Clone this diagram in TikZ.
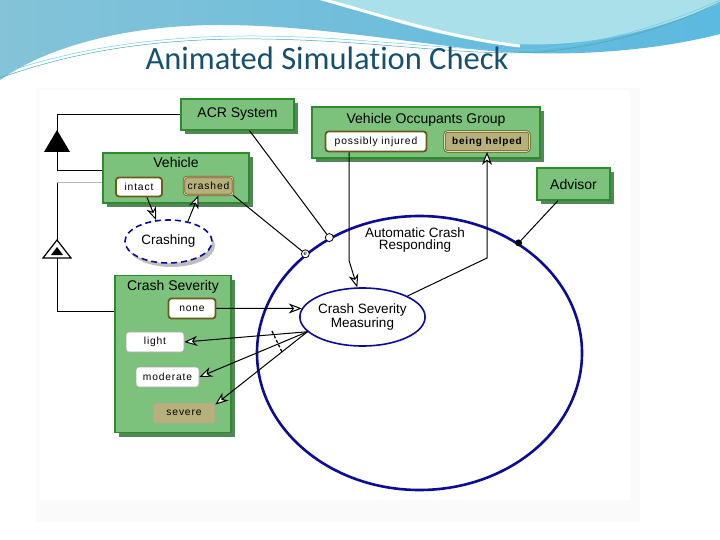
\documentclass[tikz,border=0pt]{standalone}
\usepackage{fontspec}
\setmainfont{Liberation Sans}
\newfontfamily\titlefont[Ligatures=NoCommon]{Carlito}
\newfontfamily\statefont[LetterSpace=8]{Liberation Sans}
\usetikzlibrary{positioning, shapes.geometric, arrows.meta, shadows}

\definecolor{objgreen}{HTML}{7CC27C}
\definecolor{objborder}{HTML}{2C8C2C}
\definecolor{objshadow}{HTML}{55855A}
\definecolor{stateline}{HTML}{6B5A1E}
\definecolor{statekhaki}{HTML}{B8B07A}
\definecolor{procblue}{HTML}{0C0C96}
\definecolor{titleteal}{HTML}{17506E}
\definecolor{waveblue}{HTML}{84C3D8}
\definecolor{wavedeep}{HTML}{5CB9DF}
\definecolor{wavecyan}{HTML}{A9E0EA}

\begin{document}
\begin{tikzpicture}[x=1pt, y=-1pt,
    object/.style={rectangle, draw=objborder, line width=1.2pt, fill=objgreen,
      general shadow={fill=objshadow, shadow xshift=4pt, shadow yshift=-4pt},
      inner sep=0pt, font=\fontsize{14}{16}\selectfont},
    objtitle/.style={font=\fontsize{14}{16}\selectfont},
    statebox/.style={rectangle, rounded corners=3pt, draw=gray!70, line width=0.6pt,
      fill=white, inner sep=0pt, font=\statefont\fontsize{10.3}{12}\selectfont},
    thickstate/.style={statebox, draw=stateline, line width=1.8pt},
    activestate/.style={statebox, fill=statekhaki, draw=stateline, line width=0.7pt,
      double=statekhaki!50!white, double distance=0.8pt},
    process/.style={ellipse, draw=procblue, fill=white, inner sep=0pt, align=center,
      font=\fontsize{13.5}{12.5}\selectfont},
    structline/.style={draw=black, line width=1pt},
    flow/.style={structline, -{Stealth[length=13pt, width=10pt, fill=white, inset=4pt]}},
    endcircle/.style={circle, draw=black, fill=white, line width=0.8pt, minimum size=8pt, inner sep=0pt},
    agentdot/.style={circle, fill=black, minimum size=7pt, inner sep=0pt},
  ]
\useasboundingbox (0,0) rectangle (720,540);

% slide header
\shade[left color=waveblue, right color=wavedeep] (0,0) -- (720,0) -- (720,34)
  .. controls (650,52) and (560,58) .. (480,50) .. controls (380,38) and (300,25) .. (220,25)
  .. controls (130,25) and (50,45) .. (0,80) -- cycle;
\fill[wavecyan] (330,0) .. controls (400,25) and (450,40) .. (515,44)
  .. controls (600,48) and (670,25) .. (720,3) -- (720,0) -- cycle;
\draw[white, line width=3pt] (318,-2) .. controls (390,18) and (450,38) .. (520,46);
\draw[teal!70, line width=0.5pt] (0,78) .. controls (100,42) and (200,36) .. (300,40)
  .. controls (400,44) and (470,56) .. (540,52) .. controls (620,44) and (680,22) .. (720,2);
\draw[cyan!60, line width=0.5pt] (0,74) .. controls (100,40) and (200,33) .. (300,37)
  .. controls (400,41) and (470,53) .. (540,49) .. controls (620,41) and (680,18) .. (720,0);
\node[font=\titlefont\fontsize{32.5}{34}\selectfont, text=titleteal] (title) at (327,58) {Animated Simulation Check};

% screenshot area
\fill[gray!4] (36,88) rectangle (640,522);
\fill[white] (40,90) rectangle (630,500);

% processes
\node[process, line width=2.6pt, minimum width=325pt, minimum height=274pt] (arp) at (419.5,353) {};
\node[process, draw=none, fill=none] (arplabel) at (415,240) {Automatic Crash\\Responding};
\node[process, line width=1.6pt, minimum width=117pt, minimum height=58pt] (csm) at (362.5,317) {Crash Severity\\Measuring};
\node[process, dashed, dash pattern=on 6pt off 4pt, line width=1.6pt, minimum width=87pt, minimum height=43pt,
  general shadow={fill=gray!50, shadow xshift=3pt, shadow yshift=-4pt}] (crashing) at (168.5,241.5) {Crashing};

% objects
\node[object, minimum width=113pt, minimum height=31pt] (acr) at (237.5,114.5) {ACR System};
\node[object, minimum width=146pt, minimum height=50pt] (vehicle) at (176,178) {};
\node[objtitle, below=1pt of vehicle.north] (vehicletitle) {Vehicle};
\node[object, minimum width=228pt, minimum height=51pt] (occupants) at (426,132.5) {};
\node[objtitle, below=3pt of occupants.north] (occupantstitle) {Vehicle Occupants Group};
\node[object, minimum width=73pt, minimum height=32pt] (advisor) at (573.5,184) {Advisor};
\node[object, minimum width=116pt, minimum height=157pt] (severity) at (173,354) {};
\node[objtitle, below=2pt of severity.north] (severitytitle) {Crash Severity};

% states
\node[thickstate, minimum width=46pt, minimum height=19pt] (intact) at (139,187) {intact};
\node[activestate, minimum width=49pt, minimum height=18pt] (crashed) at (208.5,186) {crashed};
\node[thickstate, minimum width=101pt, minimum height=20pt] (injured) at (376,141.5) {possibly injured};
\node[activestate, minimum width=85pt, minimum height=20pt, font=\statefont\bfseries\fontsize{10}{12}\selectfont] (helped) at (487,141.5) {being helped};
\node[thickstate, minimum width=47pt, minimum height=20pt] (none) at (192,308.5) {none};
\node[statebox, minimum width=58pt, minimum height=20pt] (light) at (155,342) {light};
\node[statebox, minimum width=63pt, minimum height=20pt] (moderate) at (167.5,377) {moderate};
\node[statebox, fill=statekhaki, minimum width=62pt, minimum height=20pt] (severe) at (184,413) {severe};

% structure
\coordinate (aggr) at (57,141);
\coordinate (exhib) at (57,249);
\coordinate (vehlow) at ([yshift=-5pt]vehicle.west);
\draw[structline] (acr.west) -| (aggr);
\draw[structline] (aggr) |- ([yshift=7pt]vehicle.west);
\draw[structline, gray!55] (vehlow) -- (vehlow -| exhib);
\draw[structline] (vehlow -| exhib) -- (exhib);
\draw[structline] (exhib) |- ([yshift=43pt]severity.west);
\fill (57,130) -- (70,152) -- (44,152) -- cycle;
\draw[fill=white, line width=1.2pt] (57,240) -- (71,258) -- (43,258) -- cycle;
\fill (57,247) -- (63,255) -- (51,255) -- cycle;

% procedural links
\node[endcircle] (acrpin) at (arp.128) {};
\node[endcircle, font=\fontsize{6}{6}\selectfont] (eventpin) at (arp.139.5) {e};
\node[agentdot] (advisorpin) at (arp.48) {};
\draw[structline] (acr) -- (acrpin);
\draw[structline] (crashed.south east) -- (eventpin);
\draw[structline] (advisor) -- (advisorpin);

\draw[flow] ([xshift=8pt]intact.south) -- (crashing.120);
\draw[flow] (crashing.46) -- ([xshift=-10pt]crashed.south);
\draw[flow] ([xshift=-27pt]injured.south) -- ++(0,108) -- (csm.100);
\draw[flow] (csm.25) -- (helped.south |- 0,258) -- (helped.south);
\draw[flow] (none) -- (csm.172);
\draw[flow] (csm.195) -- (light.east);
\draw[flow] (csm.195) -- (moderate.east);
\draw[flow] (csm.195) -- (severe.15);
\draw[dashed, dash pattern=on 3pt off 2pt, line width=1.3pt] (272,331) .. controls (277,341) .. (282,352);
\end{tikzpicture}
\end{document}
